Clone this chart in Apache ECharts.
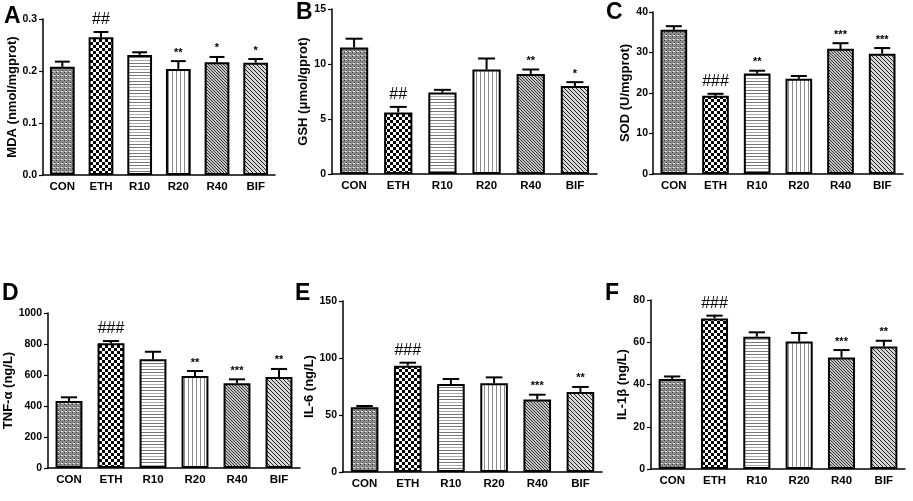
<!DOCTYPE html>
<html>
<head>
<meta charset="utf-8">
<script src="https://cdn.jsdelivr.net/npm/echarts@6/dist/echarts.min.js"></script>
<style>
html, body { margin: 0; padding: 0; background: #fff; }
#main { width: 913px; height: 501px; }
</style>
</head>
<body>
<div id="main"></div>
<script>
// groups on every x axis
var groups = ['CON', 'ETH', 'R10', 'R20', 'R40', 'BIF'];

// A  MDA
var mdaMean = [0.208, 0.265, 0.231, 0.204, 0.217, 0.216];
var mdaSem = [0.010, 0.010, 0.005, 0.015, 0.010, 0.007];
var mdaMark = ['', '##', '', '**', '*', '*'];
// B  GSH
var gshMean = [11.5, 5.6, 7.4, 9.5, 9.1, 8.0];
var gshSem = [0.8, 0.5, 0.25, 1.0, 0.4, 0.35];
var gshMark = ['', '##', '', '', '**', '*'];
// C  SOD
var sodMean = [35.6, 19.3, 24.8, 23.5, 30.9, 29.7];
var sodSem = [0.9, 0.5, 0.7, 0.7, 1.4, 1.4];
var sodMark = ['', '###', '**', '', '***', '***'];
// D  TNF-a
var tnfMean = [432, 805, 702, 594, 546, 587];
var tnfSem = [24, 14, 48, 32, 26, 52];
var tnfMark = ['', '###', '', '**', '***', '**'];
// E  IL-6
var il6Mean = [56.7, 93.3, 77.2, 77.8, 63.7, 70.2];
var il6Sem = [1.2, 2.6, 4.4, 5.2, 4.1, 4.4];
var il6Mark = ['', '###', '', '', '***', '**'];
// F  IL-1b
var il1Mean = [42.6, 71.3, 62.6, 60.4, 52.8, 58.0];
var il1Sem = [1.2, 1.3, 2.1, 4.0, 3.5, 2.7];
var il1Mark = ['', '###', '', '', '***', '**'];

// fill patterns, drawn once on small canvases
function tile(w, h, draw) {
  var c = document.createElement('canvas');
  c.width = w; c.height = h;
  var g = c.getContext('2d');
  g.fillStyle = '#fff';
  g.fillRect(0, 0, w, h);
  draw(g, w, h);
  return { image: c, repeat: 'repeat' };
}
var fills = [
  tile(4, 4, function (g) {            // CON fine grey grid
    g.fillStyle = '#8e8e8e'; g.fillRect(0, 0, 4, 4);
    g.fillStyle = '#3a3a3a'; g.fillRect(0, 0, 1, 1); g.fillRect(2, 2, 1, 1);
    g.fillStyle = '#e6e6e6'; g.fillRect(1, 3, 2, 1);
  }),
  tile(6, 6, function (g) {            // ETH checkerboard
    g.fillStyle = '#000'; g.fillRect(0, 0, 3, 3); g.fillRect(3, 3, 3, 3);
  }),
  tile(4, 9, function (g) {            // R10 horizontal lines
    g.fillStyle = '#777'; g.fillRect(0, 0, 4, 1); g.fillRect(0, 3, 4, 1);
    g.fillStyle = '#aaa'; g.fillRect(0, 6, 4, 1);
  }),
  tile(4, 4, function (g) {            // R20 vertical lines
    g.fillStyle = '#8a8a8a'; g.fillRect(0, 0, 1, 4);
  }),
  tile(3, 3, function (g) {            // R40 dense diagonal
    g.fillStyle = '#c4c4c4'; g.fillRect(0, 0, 3, 3);
    g.fillStyle = '#333'; g.fillRect(0, 0, 1, 1); g.fillRect(1, 1, 1, 1); g.fillRect(2, 2, 1, 1);
  }),
  tile(4, 4, function (g) {            // BIF diagonal
    g.fillStyle = '#d6d6d6'; g.fillRect(0, 0, 4, 4);
    g.fillStyle = '#222'; g.fillRect(0, 0, 1, 1); g.fillRect(1, 1, 1, 1); g.fillRect(2, 2, 1, 1); g.fillRect(3, 3, 1, 1);
  })
];

// gap = space between tick labels and axis name (v6 measures it from the labels)
var panels = [
  { letter: 'A', name: 'MDA (nmol/mgprot)', mean: mdaMean, sem: mdaSem, mark: mdaMark, max: 0.3, step: 0.1, dec: 1,
    grid: { left: 43, top: 19, width: 232, height: 156 }, gap: 10, lm: 6, lx: 4, ly: 5 },
  { letter: 'B', name: 'GSH (\u03bcmol/gprot)', mean: gshMean, sem: gshSem, mark: gshMark, max: 15, step: 5, dec: 0,
    grid: { left: 332, top: 9, width: 265, height: 165 }, gap: 1, lm: 6, lx: 296, ly: 1 },
  { letter: 'C', name: 'SOD (U/mgprot)', mean: sodMean, sem: sodSem, mark: sodMark, max: 40, step: 10, dec: 0,
    grid: { left: 653, top: 12, width: 250, height: 162 }, gap: 1, lm: 5, lx: 606, ly: 1 },
  { letter: 'D', name: 'TNF-\u03b1 (ng/L)', mean: tnfMean, sem: tnfSem, mark: tnfMark, max: 1000, step: 200, dec: 0,
    grid: { left: 48, top: 313, width: 252, height: 155 }, gap: 2, lm: 6, lx: 2, ly: 282 },
  { letter: 'E', name: 'IL-6 (ng/L)', mean: il6Mean, sem: il6Sem, mark: il6Mark, max: 150, step: 50, dec: 0,
    grid: { left: 343, top: 301, width: 259, height: 171 }, gap: 10, lm: 6, lx: 295, ly: 282 },
  { letter: 'F', name: 'IL-1\u03b2 (ng/L)', mean: il1Mean, sem: il1Sem, mark: il1Mark, max: 80, step: 20, dec: 0,
    grid: { left: 651, top: 300, width: 254, height: 169 }, gap: 1, lm: 6, lx: 605, ly: 282 }
];

var FONT = '"Liberation Sans", Arial, sans-serif';
var grids = [], xAxes = [], yAxes = [], series = [], graphics = [];

panels.forEach(function (p, i) {
  var gr = p.grid;
  gr.outerBoundsMode = 'none';
  gr.containLabel = false;
  grids.push(gr);
  xAxes.push({
    type: 'category', gridIndex: i, data: groups,
    axisLine: { lineStyle: { color: '#000', width: 1.5 } },
    axisTick: { alignWithLabel: true, length: 3, lineStyle: { color: '#000', width: 1.2 } },
    axisLabel: { color: '#000', fontFamily: FONT, fontWeight: 'bold', fontSize: 11.5, margin: 6 }
  });
  yAxes.push({
    type: 'value', gridIndex: i, min: 0, max: p.max, interval: p.step,
    name: p.name, nameLocation: 'middle', nameGap: p.gap,
    nameTextStyle: { color: '#000', fontFamily: FONT, fontWeight: 'bold', fontSize: 13 },
    splitLine: { show: false },
    axisLine: { show: true, lineStyle: { color: '#000', width: 1.5 } },
    axisTick: { show: true, length: 4, lineStyle: { color: '#000', width: 1.2 } },
    axisLabel: { color: '#000', fontFamily: FONT, fontWeight: 'bold', fontSize: 10.5, margin: p.lm,
      formatter: function (v) { return v.toFixed(p.dec); } }
  });
  series.push({
    type: 'bar', xAxisIndex: i, yAxisIndex: i, barWidth: '64%',
    data: p.mean.map(function (v, k) {
      return { value: v, itemStyle: { color: fills[k] } };
    }),
    itemStyle: { borderColor: '#000', borderWidth: 2 },
    z: 2
  });
  series.push({
    type: 'custom', xAxisIndex: i, yAxisIndex: i, z: 3,
    data: p.mean.map(function (v, k) { return [k, v, v + p.sem[k], k]; }),
    renderItem: function (params, api) {
      var k = api.value(3);
      var base = api.coord([api.value(0), api.value(1)]);
      var top = api.coord([api.value(0), api.value(2)]);
      var bw = api.size([1, 0])[0] * 0.64;
      var cap = bw * 0.3;
      var kids = [
        { type: 'line', shape: { x1: base[0], y1: base[1], x2: top[0], y2: top[1] },
          style: { stroke: '#000', lineWidth: 2 } },
        { type: 'line', shape: { x1: top[0] - cap, y1: top[1], x2: top[0] + cap, y2: top[1] },
          style: { stroke: '#000', lineWidth: 2 } }
      ];
      var m = p.mark[k];
      if (m) {
        var hash = m.charAt(0) === '#';
        kids.push({ type: 'text',
          style: { text: m, x: top[0], y: top[1] - (hash ? 4 : 3), align: 'center', verticalAlign: 'bottom',
            fill: '#000', font: (hash ? 'normal 16px ' : 'bold 11px ') + FONT } });
      }
      return { type: 'group', children: kids };
    }
  });
  graphics.push({ type: 'text', left: p.lx, top: p.ly,
    style: { text: p.letter, fill: '#000', font: 'bold 23px ' + FONT } });
});

var chart = echarts.init(document.getElementById('main'), null, { renderer: 'canvas' });
chart.setOption({
  animation: false,
  backgroundColor: '#fff',
  grid: grids,
  xAxis: xAxes,
  yAxis: yAxes,
  series: series,
  graphic: graphics
});
</script>
</body>
</html>
